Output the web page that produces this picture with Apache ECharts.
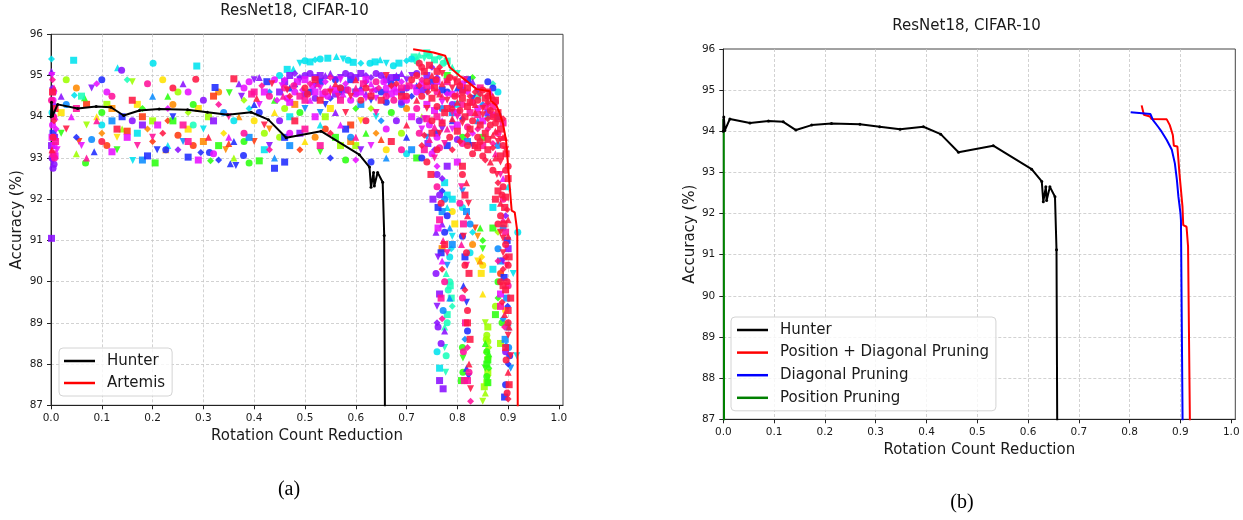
<!DOCTYPE html>
<html>
<head>
<meta charset="utf-8">
<script src="https://cdn.jsdelivr.net/npm/echarts@6/dist/echarts.min.js"></script>
<style>
html,body{margin:0;padding:0;background:#fff}
#chart{width:1243px;height:520px}
</style>
</head>
<body>
<div id="chart"></div>
<script>
// ---- axis ticks ----
const xTicks = [0, 0.1, 0.2, 0.3, 0.4, 0.5, 0.6, 0.7, 0.8, 0.9, 1.0];
const yTicks = [87, 88, 89, 90, 91, 92, 93, 94, 95, 96];

// ---- Pareto fronts: [rotation count reduction, accuracy %] ----
const hunter = [[0,94.0],[0.001,94.35],[0.003,94.02],[0.013,94.3],[0.0525,94.2],[0.089,94.25],[0.118,94.23],[0.143,94.03],[0.174,94.15],[0.213,94.19],[0.269,94.17],[0.308,94.11],[0.348,94.05],[0.394,94.11],[0.428,93.93],[0.463,93.49],[0.5315,93.65],[0.607,93.08],[0.627,92.78],[0.63,92.29],[0.635,92.65],[0.6365,92.32],[0.643,92.65],[0.653,92.41],[0.656,91.12],[0.6575,86.5]];
const artemis = [[0.713,95.64],[0.753,95.56],[0.776,95.48],[0.785,95.2],[0.805,94.99],[0.818,94.87],[0.838,94.67],[0.864,94.62],[0.866,94.39],[0.877,94.27],[0.884,94.07],[0.89,93.82],[0.896,93.42],[0.9,92.77],[0.907,91.72],[0.913,91.68],[0.917,91.31],[0.918,91.17],[0.919,86.5]];
const posDiagPruning = [[0.8236,94.63],[0.828,94.4],[0.84,94.36],[0.843,94.3],[0.873,94.29],[0.879,94.15],[0.885,93.91],[0.887,93.65],[0.894,93.63],[0.898,92.98],[0.904,92.17],[0.9055,91.72],[0.912,91.68],[0.915,91.2],[0.919,86.5]];
const diagPruning = [[0.802,94.46],[0.841,94.42],[0.846,94.27],[0.856,94.11],[0.863,93.99],[0.873,93.79],[0.883,93.55],[0.889,93.22],[0.893,92.82],[0.896,92.41],[0.9,92.01],[0.901,91.84],[0.9045,86.5]];
const posPruning = [[0.0,94.3],[0.001,94.0],[0.0015,86.5]];

// ---- search trials (one array per configuration) ----
const trialsLime = [[0.03,94.9],[0.11,94.3],[0.14,93.7],[0.16,94.85],[0.25,94.6],[0.31,94.0],[0.38,94.4],[0.42,93.6],[0.2,93.9],[0.36,93.0],[0.07,93.8],[0.46,94.2],[0.54,94.0],[0.63,94.2],[0.69,93.6],[0.57,93.3],[0.73,94.0],[0.855,89.0],[0.858,88.7],[0.86,88.9],[0.862,88.4],[0.857,88.6],[0.86,87.8],[0.855,87.3],[0.85,87.1],[0.875,89.4],[0.885,88.5],[0.88,91.2],[0.86,88.15],[0.858,87.55],[0.857,88.35],[0.86,87.65],[0.86,88.55],[0.853,87.45],[0.27,94.1],[0.45,93.5],[0.6,93.3],[0.05,93.1]];
const trialsYellow = [[0.02,94.1],[0.09,94.0],[0.13,93.5],[0.22,94.9],[0.27,93.7],[0.34,93.6],[0.4,93.9],[0.29,94.2],[0.5,93.4],[0.61,93.9],[0.66,93.2],[0.55,94.2],[0.848,90.6],[0.85,90.4],[0.847,90.2],[0.85,89.7],[0.84,90.5],[0.79,91.7],[0.795,91.4],[0.9,87.5],[0.895,89.3],[0.17,94.3],[0.44,94.1]];
const trialsOrange = [[0.226,93.2],[0.344,93.2],[0.05,94.7],[0.12,94.2],[0.19,93.7],[0.24,94.3],[0.3,93.4],[0.37,94.0],[0.43,93.7],[0.52,93.5],[0.59,93.4],[0.64,93.6],[0.7,94.2],[0.48,94.3],[0.845,90.5],[0.84,91.1],[0.83,90.9],[0.77,90.8],[0.1,93.6],[0.33,94.6]];
const trialsVermilion = [[0.055,93.4],[0.11,93.3],[0.15,93.65],[0.2,93.4],[0.25,93.55],[0.32,94.5],[0.35,93.35],[0.4,93.4],[0.28,93.3],[0.18,94.0],[0.49,93.2],[0.54,93.7],[0.59,93.8],[0.65,93.45],[0.835,91.3],[0.885,90.2],[0.07,94.3],[0.23,93.9]];
const trialsGreen = [[0.068,92.88],[0.205,92.88],[0.314,92.93],[0.39,92.88],[0.41,92.93],[0.066,94.46],[0.351,94.58],[0.1,94.1],[0.24,93.9],[0.18,94.2],[0.28,94.3],[0.33,93.3],[0.44,94.4],[0.02,93.6],[0.49,94.1],[0.56,93.5],[0.6,94.2],[0.67,94.1],[0.72,93.0],[0.62,93.6],[0.53,93.15],[0.58,92.95],[0.78,95.0],[0.83,94.95],[0.81,93.5],[0.85,93.5],[0.845,91.3],[0.85,90.8],[0.858,88.3],[0.86,88.1],[0.862,87.9],[0.858,87.7],[0.86,87.55],[0.855,88.5],[0.811,88.15],[0.811,87.8],[0.875,89.2],[0.88,89.6],[0.888,89.0],[0.858,88.0],[0.862,88.25],[0.855,87.9],[0.81,88.4],[0.808,87.6],[0.85,91.0],[0.88,90.0],[0.87,91.3],[0.23,94.5],[0.13,93.2],[0.38,93.4]];
const trialsAqua = [[0.06,94.5],[0.15,94.9],[0.28,93.8],[0.715,95.45],[0.725,95.5],[0.735,95.42],[0.745,95.48],[0.755,95.38],[0.765,95.45],[0.772,95.3],[0.78,95.35],[0.79,95.2],[0.8,95.05],[0.785,90.0],[0.788,89.6],[0.79,89.4],[0.782,89.8],[0.78,89.2],[0.775,88.9],[0.777,87.8],[0.778,88.2],[0.84,94.5],[0.87,94.8],[0.78,89.0],[0.786,89.9],[0.778,90.2],[0.775,88.4],[0.72,95.35],[0.74,95.55]];
const trialsCyan = [[0.001,95.4],[0.002,94.1],[0.0446,95.37],[0.131,95.19],[0.161,92.94],[0.201,95.3],[0.287,95.23],[0.046,94.52],[0.1,93.8],[0.17,93.6],[0.23,93.3],[0.3,93.7],[0.36,93.9],[0.42,93.2],[0.39,94.2],[0.45,95.0],[0.465,95.15],[0.477,95.16],[0.49,95.3],[0.5,95.36],[0.51,95.33],[0.52,95.38],[0.53,95.4],[0.545,95.42],[0.562,95.46],[0.575,95.4],[0.585,95.37],[0.595,95.32],[0.61,95.3],[0.628,95.3],[0.638,95.33],[0.648,95.38],[0.66,95.3],[0.674,95.24],[0.685,95.3],[0.7,95.36],[0.71,95.4],[0.47,94.0],[0.53,93.8],[0.64,94.0],[0.7,93.1],[0.8,94.3],[0.86,94.0],[0.88,94.6],[0.775,92.4],[0.78,91.8],[0.79,91.1],[0.785,90.6],[0.79,92.0],[0.83,91.2],[0.825,90.7],[0.87,91.8],[0.9,89.0],[0.917,88.2],[0.919,91.2],[0.78,92.1],[0.788,90.8],[0.81,91.8],[0.87,90.3],[0.9,92.3],[0.91,90.2],[0.76,88.3],[0.765,87.9]];
const trialsAzure = [[0.03,94.3],[0.12,93.9],[0.2,94.5],[0.26,93.4],[0.34,94.1],[0.39,93.5],[0.43,94.6],[0.08,93.45],[0.18,92.95],[0.44,93.0],[0.5,94.2],[0.57,94.7],[0.61,94.3],[0.65,93.9],[0.69,94.3],[0.71,93.2],[0.66,93.0],[0.74,93.5],[0.77,94.2],[0.82,93.4],[0.85,94.3],[0.88,93.3],[0.77,91.7],[0.785,91.3],[0.78,90.4],[0.772,89.3],[0.818,91.7],[0.815,88.6],[0.89,91.3],[0.897,89.6],[0.9,88.9],[0.905,87.9],[0.88,90.8],[0.894,88.6],[0.896,88.45],[0.775,92.0],[0.79,90.9],[0.785,89.6],[0.81,92.2],[0.825,91.4],[0.885,90.5],[0.89,89.1],[0.901,88.4],[0.79,94.1],[0.84,93.9],[0.53,94.1],[0.59,93.5],[0.47,93.3]];
const trialsBlue = [[0.004,93.6],[0.085,93.15],[0.209,93.2],[0.226,93.2],[0.27,93.02],[0.295,93.13],[0.312,93.13],[0.323,94.71],[0.353,92.86],[0.364,92.82],[0.379,93.06],[0.14,94.0],[0.05,93.5],[0.41,94.1],[0.44,92.75],[0.48,94.8],[0.52,94.75],[0.56,94.9],[0.6,94.6],[0.62,94.85],[0.65,94.6],[0.68,94.95],[0.72,94.75],[0.54,94.3],[0.66,94.35],[0.46,93.5],[0.55,93.0],[0.63,92.9],[0.58,93.7],[0.7,93.5],[0.74,94.6],[0.78,94.6],[0.82,94.9],[0.84,94.65],[0.86,94.85],[0.88,94.0],[0.79,93.9],[0.83,93.3],[0.76,93.6],[0.762,91.8],[0.77,92.2],[0.78,91.6],[0.815,90.6],[0.818,87.9],[0.822,87.7],[0.81,91.1],[0.898,91.0],[0.9,88.0],[0.895,87.5],[0.892,90.1],[0.47,94.7],[0.49,94.9],[0.51,94.6],[0.53,94.85],[0.55,94.45],[0.57,94.6],[0.59,94.9],[0.61,94.7],[0.63,94.4],[0.67,94.8],[0.69,94.6],[0.71,94.5],[0.75,94.85],[0.77,94.65],[0.8,94.7],[0.83,94.45],[0.87,94.7],[0.78,93.3],[0.81,93.95],[0.775,91.2],[0.768,90.7],[0.812,89.9],[0.818,89.5],[0.82,88.8],[0.893,87.2],[0.899,89.4],[0.903,88.2],[0.46,92.9],[0.36,93.4],[0.24,94.0],[0.1,94.9],[0.19,93.05],[0.33,92.95],[0.73,93.0],[0.425,94.85],[0.4,94.3]];
const trialsPurple = [[0.001,95.1],[0.003,92.9],[0.002,93.0],[0.001,91.05],[0.005,94.3],[0.004,92.75],[0.007,93.5],[0.02,94.5],[0.08,94.7],[0.139,95.13],[0.18,93.8],[0.25,93.2],[0.3,94.4],[0.32,93.9],[0.37,94.8],[0.43,93.3],[0.45,93.9],[0.47,95.0],[0.49,94.95],[0.51,95.05],[0.53,95.0],[0.55,95.05],[0.57,94.95],[0.59,95.0],[0.61,95.05],[0.63,94.95],[0.65,95.0],[0.67,94.95],[0.69,95.05],[0.71,95.0],[0.5,94.55],[0.58,94.65],[0.64,94.65],[0.7,94.7],[0.49,93.6],[0.56,94.1],[0.61,93.2],[0.68,93.9],[0.73,94.65],[0.75,95.2],[0.79,94.3],[0.81,94.65],[0.83,94.85],[0.77,93.7],[0.8,93.45],[0.86,94.1],[0.755,93.2],[0.76,92.6],[0.752,92.0],[0.758,91.2],[0.762,90.6],[0.758,90.2],[0.765,89.7],[0.76,89.0],[0.768,88.5],[0.772,87.4],[0.775,88.8],[0.89,90.5],[0.895,88.3],[0.46,94.85],[0.48,95.05],[0.5,95.0],[0.52,94.95],[0.54,95.0],[0.56,94.9],[0.58,95.05],[0.6,94.95],[0.62,95.0],[0.64,95.05],[0.66,94.9],[0.68,95.0],[0.7,94.9],[0.72,95.05],[0.74,95.0],[0.76,94.95],[0.52,94.45],[0.56,94.55],[0.62,94.55],[0.66,94.55],[0.69,94.35],[0.45,94.6],[0.77,92.5],[0.765,92.1],[0.78,92.8],[0.77,91.4],[0.76,89.4],[0.762,88.9],[0.765,87.6],[0.003,94.7],[0.006,92.85],[0.001,93.3],[0.26,94.8],[0.4,94.9],[0.16,93.9],[0.9,90.8],[0.895,91.6],[0.725,93.9],[0.742,93.35],[0.41,94.95],[0.375,94.5]];
const trialsMagenta = [[0.002,95.0],[0.004,94.4],[0.006,93.3],[0.01,93.7],[0.003,93.8],[0.008,93.05],[0.04,94.0],[0.06,93.3],[0.11,94.6],[0.15,93.5],[0.23,94.2],[0.27,94.6],[0.29,92.95],[0.35,93.5],[0.41,94.3],[0.44,94.9],[0.12,93.15],[0.46,94.9],[0.48,94.6],[0.5,94.9],[0.51,94.4],[0.53,94.7],[0.545,94.5],[0.56,94.65],[0.58,94.8],[0.59,94.4],[0.61,94.6],[0.63,94.8],[0.64,94.45],[0.66,94.7],[0.67,94.55],[0.69,94.85],[0.7,94.4],[0.52,94.6],[0.575,94.55],[0.62,94.45],[0.68,94.6],[0.47,94.35],[0.54,94.85],[0.47,93.6],[0.52,94.0],[0.57,93.8],[0.63,93.3],[0.66,93.7],[0.71,94.0],[0.6,92.95],[0.72,94.6],[0.74,94.3],[0.75,94.75],[0.77,94.35],[0.79,94.55],[0.8,94.1],[0.82,94.6],[0.84,94.2],[0.85,93.9],[0.865,94.6],[0.735,93.95],[0.76,93.5],[0.8,93.8],[0.83,93.6],[0.87,94.05],[0.762,91.3],[0.77,90.5],[0.455,94.75],[0.465,94.45],[0.485,94.85],[0.495,94.65],[0.515,94.75],[0.535,94.55],[0.55,94.7],[0.57,94.9],[0.6,94.55],[0.62,94.9],[0.635,94.65],[0.655,94.85],[0.675,94.7],[0.695,94.5],[0.715,94.7],[0.73,94.8],[0.76,94.85],[0.78,94.55],[0.81,94.8],[0.755,94.15],[0.77,93.9],[0.79,93.7],[0.745,93.8],[0.8,92.9],[0.76,92.8],[0.005,94.6],[0.002,93.5],[0.008,94.0],[0.012,93.2],[0.38,94.7],[0.21,93.8],[0.09,94.8],[0.32,93.1],[0.885,89.7],[0.89,92.5],[0.73,93.7],[0.75,93.1],[0.42,94.6],[0.445,94.4],[0.39,94.85]];
const trialsPink = [[0.005,94.0],[0.009,93.4],[0.003,94.9],[0.007,93.0],[0.05,94.2],[0.09,93.9],[0.17,93.3],[0.19,94.8],[0.26,93.8],[0.33,94.3],[0.38,93.6],[0.4,94.6],[0.07,93.0],[0.2,93.5],[0.46,94.7],[0.49,94.5],[0.51,94.8],[0.54,94.6],[0.57,94.4],[0.6,94.7],[0.63,94.6],[0.66,94.5],[0.69,94.7],[0.55,94.95],[0.64,94.85],[0.5,93.7],[0.6,93.5],[0.64,94.1],[0.69,93.2],[0.53,93.3],[0.73,94.9],[0.76,94.6],[0.78,94.85],[0.8,94.55],[0.815,94.9],[0.83,94.35],[0.845,94.7],[0.86,94.3],[0.875,94.35],[0.76,94.0],[0.78,93.7],[0.8,94.0],[0.82,93.75],[0.84,94.05],[0.86,93.7],[0.88,93.6],[0.89,93.85],[0.755,93.75],[0.775,93.35],[0.81,93.35],[0.85,93.3],[0.87,93.35],[0.76,92.3],[0.765,91.5],[0.772,91.0],[0.78,90.7],[0.775,90.0],[0.768,89.6],[0.77,89.1],[0.805,91.9],[0.812,91.4],[0.808,90.9],[0.818,90.4],[0.81,89.6],[0.816,89.0],[0.82,88.4],[0.823,87.8],[0.82,87.6],[0.89,91.5],[0.897,90.4],[0.9,89.9],[0.885,89.4],[0.893,88.9],[0.72,94.2],[0.74,94.75],[0.77,94.5],[0.79,94.1],[0.81,94.3],[0.825,94.1],[0.84,93.7],[0.855,94.25],[0.87,94.25],[0.875,93.1],[0.885,92.6],[0.89,92.0],[0.895,91.2],[0.88,90.5],[0.478,94.75],[0.5,94.4],[0.525,94.8],[0.565,94.5],[0.585,94.65],[0.615,94.8],[0.645,94.7],[0.675,94.4],[0.705,94.75],[0.457,94.5],[0.35,94.0],[0.12,94.5],[0.27,93.4],[0.43,93.2],[0.001,94.4],[0.004,93.1],[0.006,94.7],[0.808,92.3],[0.812,88.3],[0.814,87.6],[0.826,87.1],[0.725,93.6],[0.735,93.2],[0.745,93.45],[0.755,93.0],[0.765,93.25],[0.74,93.95],[0.415,94.75],[0.43,94.5],[0.395,94.55]];
const trialsCrimson = [[0.003,94.6],[0.006,93.9],[0.004,93.5],[0.008,94.2],[0.002,93.2],[0.03,93.7],[0.1,93.4],[0.16,94.4],[0.22,93.6],[0.285,94.91],[0.36,94.92],[0.31,93.5],[0.42,93.8],[0.24,94.7],[0.13,93.7],[0.47,94.5],[0.5,94.7],[0.53,94.4],[0.56,94.8],[0.59,94.5],[0.62,94.7],[0.65,94.4],[0.68,94.8],[0.7,94.5],[0.52,94.9],[0.6,94.9],[0.66,95.0],[0.71,94.9],[0.48,93.9],[0.55,93.6],[0.62,93.9],[0.67,93.4],[0.7,93.8],[0.58,94.1],[0.725,95.3],[0.745,95.25],[0.765,95.2],[0.72,95.0],[0.735,95.1],[0.75,95.0],[0.77,95.05],[0.785,94.95],[0.8,94.85],[0.725,94.75],[0.74,94.85],[0.755,94.7],[0.77,94.8],[0.79,94.7],[0.805,94.75],[0.82,94.7],[0.835,94.6],[0.73,94.5],[0.75,94.45],[0.765,94.55],[0.78,94.4],[0.795,94.5],[0.81,94.45],[0.825,94.5],[0.84,94.4],[0.855,94.45],[0.87,94.5],[0.74,94.2],[0.76,94.25],[0.775,94.1],[0.79,94.2],[0.805,94.15],[0.82,94.25],[0.835,94.1],[0.85,94.2],[0.865,94.15],[0.88,94.1],[0.89,93.95],[0.75,93.9],[0.77,93.85],[0.79,93.95],[0.81,93.85],[0.83,93.9],[0.845,93.8],[0.86,93.95],[0.875,93.85],[0.885,93.7],[0.893,93.5],[0.765,93.6],[0.785,93.5],[0.8,93.65],[0.82,93.55],[0.84,93.5],[0.855,93.6],[0.87,93.55],[0.88,93.4],[0.89,93.3],[0.896,93.1],[0.79,93.2],[0.83,93.1],[0.86,93.2],[0.875,93.0],[0.885,92.9],[0.895,92.7],[0.9,92.5],[0.86,94.35],[0.87,94.0],[0.88,93.95],[0.89,93.5],[0.895,93.2],[0.9,92.8],[0.885,93.05],[0.87,93.25],[0.85,93.05],[0.84,93.25],[0.865,92.9],[0.878,92.6],[0.89,92.3],[0.895,92.05],[0.898,91.75],[0.885,91.6],[0.892,91.4],[0.9,91.1],[0.89,90.7],[0.9,90.4],[0.895,89.8],[0.888,89.5],[0.9,89.0],[0.895,88.4],[0.9,87.8],[0.86,94.6],[0.85,94.65],[0.875,94.4],[0.88,92.4],[0.888,92.1],[0.893,91.8],[0.9,91.5],[0.885,91.2],[0.895,90.9],[0.902,90.6],[0.89,90.3],[0.898,90.0],[0.905,89.6],[0.893,89.2],[0.9,88.7],[0.896,88.1],[0.902,87.5],[0.9,87.15],[0.81,92.6],[0.815,92.1],[0.82,91.6],[0.812,91.1],[0.818,90.7],[0.823,90.2],[0.815,89.8],[0.82,89.3],[0.825,88.6],[0.823,88.0],[0.826,87.4],[0.768,91.9],[0.775,90.9],[0.77,90.3],[0.73,95.2],[0.76,95.1],[0.78,94.9],[0.795,94.9],[0.81,94.6],[0.825,94.35],[0.845,94.55],[0.86,94.5],[0.815,94.0],[0.835,94.3],[0.85,94.05],[0.865,93.8],[0.825,93.7],[0.805,93.4],[0.845,93.4],[0.86,93.45],[0.875,93.65],[0.885,93.45],[0.82,93.3],[0.835,93.3],[0.855,92.95],[0.87,92.7],[0.88,92.2],[0.885,91.9],[0.89,91.05],[0.88,91.4],[0.875,92.0],[0.895,90.6],[0.885,90.0],[0.89,89.9],[0.902,88.9],[0.905,88.2],[0.898,87.3],[0.9,89.3],[0.742,94.6],[0.758,94.9],[0.78,94.2],[0.8,94.35],[0.55,94.6],[0.57,94.7],[0.63,94.5],[0.67,94.75],[0.61,94.4],[0.69,94.5],[0.72,94.4],[0.465,94.65],[0.505,94.55],[0.75,93.6],[0.73,93.3],[0.74,92.9],[0.81,92.8],[0.818,92.4],[0.822,91.9],[0.815,90.4],[0.82,89.0],[0.735,93.55],[0.76,93.2],[0.748,92.6],[0.405,94.45],[0.435,94.8]];

const FONT = '"DejaVu Sans", sans-serif';
const TEXT = '#1a1a1a';
const INV_TRI = 'path://M0,0 L10,0 L5,8.7 Z';
const SHAPES = ['circle', 'rect', 'triangle', INV_TRI, 'circle', 'rect', 'diamond'];

const trialSets = [
  { data: trialsLime,       color: '#9dff00' },
  { data: trialsYellow,     color: '#ffe100' },
  { data: trialsOrange,     color: '#ff8a00' },
  { data: trialsVermilion,  color: '#ff3a10' },
  { data: trialsGreen,      color: '#2bff10' },
  { data: trialsAqua,       color: '#1affbb' },
  { data: trialsCyan,       color: '#00e2ee' },
  { data: trialsAzure,      color: '#0a8cff' },
  { data: trialsBlue,       color: '#1f2bff' },
  { data: trialsPurple,     color: '#8a10ff' },
  { data: trialsMagenta,    color: '#e810ff' },
  { data: trialsPink,       color: '#ff109a' },
  { data: trialsCrimson,    color: '#ff1744' }
];

function xAxisFor(gi) {
  return {
    type: 'value', gridIndex: gi, min: 0, max: 1.008, interval: 0.1,
    name: 'Rotation Count Reduction', nameLocation: 'middle', nameGap: 21,
    nameTextStyle: { fontSize: 15, color: TEXT, fontFamily: FONT },
    axisLine: { show: true, onZero: false, lineStyle: { color: '#222', width: 1 } },
    axisTick: { show: true, length: 4, customValues: xTicks, lineStyle: { color: '#222' } },
    axisLabel: { customValues: xTicks, formatter: v => v.toFixed(1), fontSize: 10.5, color: TEXT, fontFamily: FONT, margin: 7 },
    splitLine: { show: true, showMinLine: false, showMaxLine: false, lineStyle: { color: '#c6c6c6', type: [3, 2], width: 0.8 } }
  };
}
function yAxisFor(gi) {
  return {
    type: 'value', gridIndex: gi, min: 87, max: 96, interval: 1,
    name: 'Accuracy (%)', nameLocation: 'middle', nameGap: 26, nameRotate: 90,
    nameTextStyle: { fontSize: 15, color: TEXT, fontFamily: FONT },
    axisLine: { show: true, onZero: false, lineStyle: { color: '#222', width: 1 } },
    axisTick: { show: true, length: 4, customValues: yTicks, lineStyle: { color: '#222' } },
    axisLabel: { customValues: yTicks, formatter: v => String(v), fontSize: 10.5, color: TEXT, fontFamily: FONT, margin: 8 },
    splitLine: { show: true, showMinLine: false, showMaxLine: false, lineStyle: { color: '#c6c6c6', type: [3, 2], width: 0.8 } }
  };
}
function legendFor(names, left, top, gap, pad) {
  return {
    data: names, left: left, top: top, orient: 'vertical',
    icon: 'rect', itemWidth: 31, itemHeight: 2.5, itemGap: gap,
    padding: pad, backgroundColor: 'rgba(255,255,255,0.8)',
    borderColor: '#d4d4d4', borderWidth: 1, borderRadius: 4,
    selectedMode: false,
    textStyle: { fontSize: 15, color: TEXT, fontFamily: FONT, lineHeight: 16, padding: [0, 0, 0, 7] }
  };
}
function lineSeries(name, data, color, gi, withDots, z) {
  return {
    type: 'line', name: name, data: data, xAxisIndex: gi, yAxisIndex: gi,
    symbol: withDots ? 'circle' : 'none', symbolSize: 3, showSymbol: withDots,
    itemStyle: { color: color }, lineStyle: { color: color, width: 2 },
    clip: true, z: z || 5, animation: false, silent: true
  };
}

const series = trialSets.map((s, k) => ({
  type: 'scatter', xAxisIndex: 0, yAxisIndex: 0, data: s.data,
  symbol: (v, p) => SHAPES[(p.dataIndex + k) % SHAPES.length],
  symbolSize: 7,
  itemStyle: { color: s.color, opacity: 0.88 },
  z: 2, silent: true, animation: false
}));
series.push(
  lineSeries('Hunter', hunter, '#000000', 0, true),
  lineSeries('Artemis', artemis, '#ff0000', 0, false),
  lineSeries('Position Pruning', posPruning, '#008000', 1, false, 4),
  lineSeries('Hunter', hunter, '#000000', 1, true),
  lineSeries('Position + Diagonal Pruning', posDiagPruning, '#ff0000', 1, false),
  lineSeries('Diagonal Pruning', diagPruning, '#0000ff', 1, false)
);

const chart = echarts.init(document.getElementById('chart'), null, { renderer: 'canvas' });
chart.setOption({
  animation: false,
  backgroundColor: '#ffffff',
  title: [
    { text: 'ResNet18, CIFAR-10', left: 294.5, top: 4, textAlign: 'center', padding: 0,
      textStyle: { fontSize: 15, fontWeight: 'normal', color: TEXT, fontFamily: FONT } },
    { text: 'ResNet18, CIFAR-10', left: 966.5, top: 19, textAlign: 'center', padding: 0,
      textStyle: { fontSize: 15, fontWeight: 'normal', color: TEXT, fontFamily: FONT } }
  ],
  grid: [
    { left: 51, top: 34.3, width: 512, height: 371, show: true, borderColor: '#444', borderWidth: 1, backgroundColor: 'transparent' },
    { left: 723.3, top: 49, width: 512, height: 370.3, show: true, borderColor: '#444', borderWidth: 1, backgroundColor: 'transparent' }
  ],
  xAxis: [xAxisFor(0), xAxisFor(1)],
  yAxis: [yAxisFor(0), yAxisFor(1)],
  legend: [
    legendFor(['Hunter', 'Artemis'], 59, 348, 6, [5, 7, 5, 5]),
    legendFor(['Hunter', 'Position + Diagonal Pruning', 'Diagonal Pruning', 'Position Pruning'], 731, 317, 6.6, [5, 7, 5, 6])
  ],
  graphic: [
    { type: 'text', x: 289, y: 490, style: { text: '(a)', font: '20px "Liberation Serif", serif', fill: '#000', textAlign: 'center', textVerticalAlign: 'middle' } },
    { type: 'text', x: 962, y: 503, style: { text: '(b)', font: '20px "Liberation Serif", serif', fill: '#000', textAlign: 'center', textVerticalAlign: 'middle' } }
  ],
  series: series
});
</script>
</body>
</html>
